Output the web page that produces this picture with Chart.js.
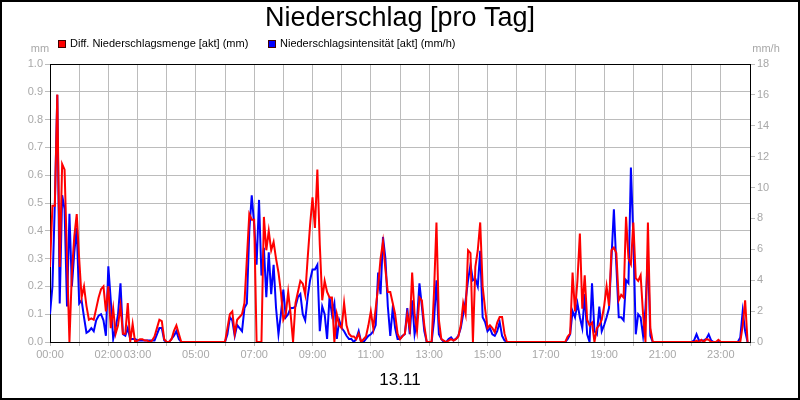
<!DOCTYPE html>
<html>
<head>
<meta charset="utf-8">
<script src="https://cdn.jsdelivr.net/npm/chart.js"></script>
<style>
  body { margin: 0; background: #fff; }
  #box { width: 800px; height: 400px; }
</style>
</head>
<body>
<div id="box"><canvas id="niederschlag"></canvas></div>
<script>
// Messwerte alle 5 Minuten, 00:00 bis 23:55
const times = [];
for (let m = 0; m < 1440; m += 5) {
  times.push(m);
}

// Diff. Niederschlagsmenge in mm (linke Achse)
const menge = [
  0.27, 0.49, 0.49, 0.89, 0.27, 0.64, 0.62, 0.3, 0, 0.25,
  0.38, 0.46, 0.3, 0.16, 0.2, 0.13, 0.08, 0.085, 0.08, 0.12,
  0.16, 0.19, 0.2, 0.11, 0.2, 0.05, 0.12, 0.03, 0.06, 0.13,
  0.03, 0.03, 0.14, 0, 0.065, 0, 0.005, 0.01, 0.01, 0.005,
  0.005, 0, 0.005, 0.02, 0.05, 0.08, 0.075, 0.01, 0, 0,
  0.01, 0.04, 0.06, 0.03, 0, 0, 0, 0, 0, 0,
  0, 0, 0, 0, 0, 0, 0, 0, 0, 0,
  0, 0, 0, 0.05, 0.1, 0.11, 0.03, 0.08, 0.09, 0.1,
  0.14, 0.3, 0.46, 0.44, 0.44, 0, 0, 0, 0.45, 0.33,
  0.4, 0.33, 0.36, 0.3, 0.25, 0.18, 0.08, 0.1, 0.18, 0.1,
  0, 0.14, 0.18, 0.22, 0.21, 0.17, 0.3, 0.42, 0.52, 0.41,
  0.62, 0.35, 0.15, 0.22, 0.18, 0.16, 0.16, 0, 0.1, 0.06,
  0.05, 0.14, 0.06, 0.03, 0.02, 0.02, 0.01, 0.03, 0, 0.01,
  0.02, 0.06, 0.11, 0.05, 0.12, 0.2, 0.3, 0.36, 0.26, 0.18,
  0.18, 0.14, 0.1, 0.03, 0.01, 0.02, 0.03, 0.1, 0.05, 0.25,
  0.1, 0.04, 0.16, 0.15, 0.06, 0, 0, 0, 0.18, 0.43,
  0.08, 0.01, 0.005, 0, 0.005, 0.01, 0.005, 0.01, 0.02, 0.06,
  0.14, 0.1, 0.33, 0.32, 0, 0.27, 0.33, 0.43, 0.2, 0.12,
  0.05, 0.06, 0.05, 0.035, 0.07, 0.09, 0.09, 0.03, 0, 0,
  0, 0, 0, 0, 0, 0, 0, 0, 0, 0,
  0, 0, 0, 0, 0, 0, 0, 0, 0, 0,
  0, 0, 0, 0.02, 0.03, 0.25, 0.11, 0.22, 0.39, 0.12,
  0.24, 0.08, 0.06, 0.07, 0, 0.05, 0.06, 0.08, 0.13, 0.2,
  0.13, 0.33, 0.34, 0.32, 0.15, 0.17, 0.16, 0.45, 0.3, 0.28,
  0.43, 0.23, 0.22, 0.24, 0.1, 0, 0.43, 0.05, 0, 0,
  0, 0, 0, 0, 0, 0, 0, 0, 0, 0,
  0, 0, 0, 0, 0, 0, 0.005, 0, 0.008, 0,
  0.01, 0.008, 0, 0, 0, 0.008, 0, 0, 0, 0,
  0, 0, 0, 0, 0, 0.06, 0.15, 0
];

// Niederschlagsintensität in mm/h (rechte Achse)
const intensitaet = [
  1.8, 3.6, 9, 16, 2.5, 9.5, 8.6, 2.3, 8.3, 3.6,
  5.8, 7.4, 2.5, 2.7, 1.6, 0.6, 0.7, 0.9, 0.7, 1.4,
  1.7, 1.8, 1.4, 0.4, 4.9, 2.7, 0.2, 0.9, 1.8, 3.8,
  0.5, 0.4, 0.9, 0.2, 0.2, 0.2, 0.1, 0.1, 0.1, 0.1,
  0.1, 0.1, 0.1, 0.1, 0.5, 0.9, 0.9, 0.1, 0, 0,
  0.2, 0.4, 0.7, 0.2, 0, 0, 0, 0, 0, 0,
  0, 0, 0, 0, 0, 0, 0, 0, 0, 0,
  0, 0, 0, 0.5, 1.6, 1.4, 0.4, 1.1, 0.9, 0.7,
  2.2, 2.5, 7.2, 9.5, 7.6, 5, 9.2, 4.3, 6.1, 2.9,
  5.8, 3.1, 5, 2.2, 0.5, 1.8, 3.4, 1.6, 1.8, 2.2,
  2.2, 2.3, 2.9, 3.1, 1.8, 1.4, 2.9, 4, 4.7, 4.7,
  5, 0.7, 2.3, 1.8, 0.2, 2.9, 1.8, 2.5, 0.2, 1.4,
  0.9, 0.7, 0.4, 0.2, 0.2, 0, 0.2, 0.7, 0, 0,
  0.2, 0.4, 0.5, 0.7, 1.1, 4.5, 3.1, 6.8, 5.4, 2.3,
  0.4, 2.2, 0.9, 0.2, 0.2, 0.4, 0.5, 2.2, 0.5, 2.7,
  0.5, 1.4, 3.8, 2.3, 0.7, 0, 0, 0, 1.4, 4,
  0.5, 0.2, 0, 0, 0.2, 0.3, 0.1, 0.2, 0.4, 0.9,
  1.8, 2.7, 4, 5, 4, 4.1, 3.6, 5.9, 1.6, 1.3,
  0.7, 0.9, 0.5, 0.4, 0.7, 1.3, 0.4, 0.1, 0, 0,
  0, 0, 0, 0, 0, 0, 0, 0, 0, 0,
  0, 0, 0, 0, 0, 0, 0, 0, 0, 0,
  0, 0, 0, 0.2, 0.5, 2, 1.6, 2.5, 1.6, 0.9,
  3.1, 0.5, 0, 3.8, 0.7, 0.5, 2.3, 0.7, 1.1, 1.6,
  2.2, 5.4, 8.6, 5, 1.6, 1.6, 1.4, 4, 3.8, 11.3,
  6.8, 0.5, 1.8, 1.6, 0.4, 2.2, 5.6, 0.4, 0, 0,
  0, 0, 0, 0, 0, 0, 0, 0, 0, 0,
  0, 0, 0, 0, 0, 0.1, 0.5, 0.1, 0.1, 0.1,
  0.2, 0.5, 0.1, 0, 0, 0, 0, 0, 0, 0,
  0, 0, 0, 0, 0.3, 2, 0.7, 0
];

// nur diese Stunden bekommen eine Beschriftung
const tickLabels = ['00:00', '02:00', '03:00', '05:00', '07:00', '09:00', '11:00',
  '13:00', '15:00', '17:00', '19:00', '21:00', '23:00'];

const schrift = '"Liberation Sans", Arial, sans-serif';
const grau = '#a8a8a8';
const gitter = '#bcbcbc';

// Rahmen um die Zeichenfläche (unter den Linien)
const rahmenInnen = {
  id: 'rahmenInnen',
  beforeDatasetsDraw(chart) {
    const c = chart.ctx;
    const a = chart.chartArea;
    c.save();
    c.strokeStyle = '#000';
    c.lineWidth = 1;
    c.strokeRect(a.left + 0.5, a.top + 0.5, a.right - a.left, a.bottom - a.top);
    c.restore();
  }
};

// Außenrahmen, Legende und Einheiten
const extras = {
  id: 'extras',
  afterDraw(chart) {
    const c = chart.ctx;
    c.save();
    c.strokeStyle = '#000';
    c.lineWidth = 2;
    c.strokeRect(1, 1, chart.width - 2, chart.height - 2);

    c.font = '11px ' + schrift;
    c.textBaseline = 'middle';
    const pos = [58, 268];
    chart.data.datasets.forEach((ds, i) => {
      c.fillStyle = ds.borderColor;
      c.fillRect(pos[i], 40, 8, 8);
      c.lineWidth = 1;
      c.strokeStyle = '#400000';
      c.strokeRect(pos[i] + 0.5, 40.5, 7, 7);
      c.fillStyle = '#000';
      c.fillText(ds.label, pos[i] + 12, 44);
    });

    c.fillStyle = grau;
    c.textAlign = 'center';
    c.fillText('mm', 40, 49);
    c.fillText('mm/h', 766, 49);
    c.restore();
  }
};

const ctx = document.querySelector('#niederschlag');

new Chart(ctx, {
  type: 'line',
  data: {
    datasets: [{
      label: 'Diff. Niederschlagsmenge [akt] (mm)',
      data: times.map((t, i) => ({ x: t, y: menge[i] })),
      borderColor: '#ff0000',
      borderWidth: 2,
      pointRadius: 0,
      tension: 0,
      yAxisID: 'y'
    }, {
      label: 'Niederschlagsintensität [akt] (mm/h)',
      data: times.map((t, i) => ({ x: t, y: intensitaet[i] })),
      borderColor: '#0000ff',
      borderWidth: 2,
      pointRadius: 0,
      tension: 0,
      yAxisID: 'y1'
    }]
  },
  options: {
    responsive: true,
    maintainAspectRatio: false,
    animation: false,
    layout: { padding: 0 },
    plugins: {
      legend: { display: false },
      tooltip: { enabled: false },
      title: {
        display: true,
        text: 'Niederschlag [pro Tag]',
        color: '#000',
        font: { size: 27, family: schrift, weight: 'normal', lineHeight: 1 },
        padding: { top: 5, bottom: 32 }
      }
    },
    scales: {
      x: {
        type: 'linear',
        min: 0,
        max: 1440,
        border: { display: false },
        grid: { color: gitter, tickLength: 4 },
        ticks: {
          stepSize: 60,
          autoSkip: false,
          maxRotation: 0,
          color: grau,
          padding: 2,
          font: { size: 11, family: schrift },
          callback: function (v) {
            const h = v / 60;
            const txt = (h < 10 ? '0' : '') + h + ':00';
            return tickLabels.includes(txt) ? txt : '';
          }
        },
        title: {
          display: true,
          text: '13.11',
          color: '#000',
          font: { size: 17, family: schrift },
          padding: { top: 0, bottom: 9 }
        },
        afterFit(s) { s.height = 58; }
      },
      y: {
        position: 'left',
        min: 0,
        max: 1,
        border: { display: false },
        grid: { color: gitter, tickLength: 5 },
        ticks: {
          stepSize: 0.1,
          color: grau,
          padding: 2,
          font: { size: 11, family: schrift },
          callback: v => v.toFixed(1)
        },
        afterFit(s) { s.width = 50; }
      },
      y1: {
        position: 'right',
        min: 0,
        max: 18,
        border: { display: false },
        grid: { drawOnChartArea: false, color: gitter, tickLength: 5 },
        ticks: {
          stepSize: 2,
          color: grau,
          padding: 2,
          font: { size: 11, family: schrift }
        },
        afterFit(s) { s.width = 50; }
      }
    }
  },
  plugins: [rahmenInnen, extras]
});
</script>
</body>
</html>
